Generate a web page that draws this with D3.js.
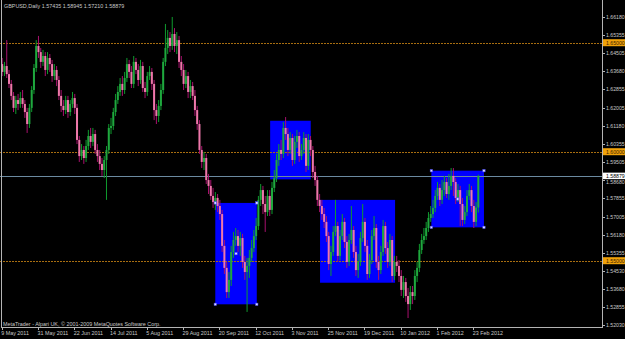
<!DOCTYPE html>
<html>
<head>
<meta charset="utf-8">
<script src="https://cdn.jsdelivr.net/npm/d3@7"></script>
<style>
html, body { margin: 0; padding: 0; background: #000; }
svg { display: block; }
text { font-family: "Liberation Sans", Arial, sans-serif; }
</style>
</head>
<body>
<svg id="chart" width="625" height="339"></svg>
<script>
// GBPUSD daily bars, 9 May 2011 .. 27 Feb 2012 (one entry per bar)
const open = [
  1.6402,1.6366,1.6393,1.6356,1.6311,1.6256,1.6201,1.6237,1.6219,1.6246,
  1.6219,1.6182,1.6127,1.6201,1.6283,1.6384,1.6485,1.6457,1.6412,1.6439,
  1.6375,1.6430,1.6402,1.6347,1.6375,1.6329,1.6256,1.6210,1.6191,1.6237,
  1.6182,1.6219,1.6246,1.6201,1.6054,1.5980,1.6008,1.5971,1.6026,1.6072,
  1.6045,1.6081,1.6008,1.5980,1.5944,1.5916,1.5962,1.6008,1.6109,1.6118,
  1.6182,1.6237,1.6274,1.6311,1.6283,1.6338,1.6402,1.6366,1.6311,1.6412,
  1.6375,1.6329,1.6393,1.6292,1.6274,1.6347,1.6366,1.6311,1.6191,1.6164,
  1.6210,1.6283,1.6412,1.6476,1.6522,1.6485,1.6540,1.6485,1.6512,1.6412,
  1.6375,1.6311,1.6347,1.6274,1.6301,1.6256,1.6191,1.6127,1.6008,1.5953,
  1.5971,1.5870,1.5843,1.5797,1.5769,1.5788,1.5751,1.5714,1.5568,1.5467,
  1.5356,1.5412,1.5540,1.5595,1.5613,1.5568,1.5604,1.5494,1.5448,1.5476,
  1.5513,1.5558,1.5613,1.5659,1.5779,1.5824,1.5760,1.5723,1.5797,1.5733,
  1.5834,1.5879,1.5962,1.6008,1.5990,1.6109,1.6081,1.6008,1.6063,1.5962,
  1.6045,1.6072,1.5980,1.6008,1.6063,1.5935,1.6054,1.6008,1.5907,1.5870,
  1.5779,1.5751,1.5714,1.5678,1.5613,1.5485,1.5540,1.5632,1.5659,1.5522,
  1.5613,1.5678,1.5586,1.5494,1.5595,1.5641,1.5540,1.5457,1.5494,1.5604,
  1.5678,1.5568,1.5439,1.5503,1.5613,1.5650,1.5494,1.5457,1.5540,1.5659,
  1.5558,1.5494,1.5595,1.5430,1.5494,1.5476,1.5430,1.5366,1.5402,1.5338,
  1.5301,1.5356,1.5338,1.5430,1.5467,1.5549,1.5595,1.5613,1.5650,1.5696,
  1.5714,1.5742,1.5797,1.5834,1.5779,1.5824,1.5861,1.5806,1.5843,1.5889,
  1.5861,1.5788,1.5824,1.5760,1.5687,1.5723,1.5797,1.5824,1.5751,1.5678,
  1.5744
];
const high = [
  1.6430,1.6412,1.6512,1.6375,1.6329,1.6274,1.6256,1.6265,1.6274,1.6283,
  1.6237,1.6201,1.6219,1.6301,1.6402,1.6512,1.6531,1.6476,1.6467,1.6457,
  1.6457,1.6448,1.6421,1.6402,1.6393,1.6347,1.6283,1.6237,1.6256,1.6256,
  1.6237,1.6274,1.6265,1.6219,1.6072,1.6035,1.6026,1.6054,1.6100,1.6109,
  1.6109,1.6100,1.6035,1.6008,1.5971,1.5980,1.6026,1.6127,1.6155,1.6201,
  1.6265,1.6301,1.6338,1.6347,1.6366,1.6430,1.6421,1.6393,1.6439,1.6430,
  1.6402,1.6421,1.6412,1.6320,1.6366,1.6393,1.6384,1.6329,1.6219,1.6237,
  1.6311,1.6430,1.6586,1.6558,1.6549,1.6618,1.6567,1.6549,1.6531,1.6439,
  1.6402,1.6375,1.6366,1.6329,1.6320,1.6283,1.6210,1.6145,1.6026,1.5999,
  1.5990,1.5898,1.5870,1.5834,1.5815,1.5806,1.5779,1.5733,1.5595,1.5494,
  1.5448,1.5568,1.5632,1.5650,1.5641,1.5632,1.5623,1.5522,1.5513,1.5549,
  1.5595,1.5641,1.5696,1.5797,1.5852,1.5843,1.5797,1.5824,1.5824,1.5861,
  1.5916,1.5990,1.6035,1.6054,1.6136,1.6159,1.6109,1.6090,1.6081,1.6072,
  1.6100,1.6090,1.6035,1.6090,1.6081,1.6081,1.6072,1.6026,1.5935,1.5889,
  1.5806,1.5779,1.5742,1.5705,1.5632,1.5568,1.5659,1.5779,1.5678,1.5641,
  1.5714,1.5696,1.5613,1.5623,1.5751,1.5659,1.5568,1.5531,1.5632,1.5760,
  1.5696,1.5595,1.5531,1.5641,1.5705,1.5668,1.5522,1.5568,1.5687,1.5678,
  1.5586,1.5623,1.5613,1.5522,1.5522,1.5503,1.5457,1.5430,1.5421,1.5375,
  1.5384,1.5384,1.5457,1.5494,1.5577,1.5623,1.5650,1.5678,1.5723,1.5751,
  1.5779,1.5824,1.5861,1.5852,1.5870,1.5889,1.5879,1.5898,1.5925,1.5925,
  1.5879,1.5852,1.5843,1.5788,1.5751,1.5824,1.5852,1.5843,1.5779,1.5769,
  1.58945
];
const low = [
  1.6347,1.6347,1.6338,1.6292,1.6237,1.6182,1.6173,1.6191,1.6201,1.6201,
  1.6155,1.6086,1.6109,1.6182,1.6265,1.6366,1.6430,1.6384,1.6393,1.6347,
  1.6356,1.6366,1.6320,1.6329,1.6301,1.6237,1.6182,1.6164,1.6173,1.6155,
  1.6164,1.6201,1.6173,1.6035,1.5953,1.5962,1.5944,1.5953,1.6008,1.6017,
  1.6026,1.5990,1.5953,1.5916,1.5889,1.5879,1.5779,1.5990,1.6081,1.6100,
  1.6164,1.6219,1.6256,1.6256,1.6265,1.6320,1.6338,1.6292,1.6292,1.6356,
  1.6301,1.6311,1.6274,1.6246,1.6256,1.6329,1.6283,1.6145,1.6127,1.6136,
  1.6191,1.6265,1.6393,1.6448,1.6457,1.6467,1.6457,1.6448,1.6384,1.6347,
  1.6283,1.6292,1.6246,1.6246,1.6237,1.6164,1.6100,1.5990,1.5925,1.5916,
  1.5852,1.5806,1.5779,1.5742,1.5733,1.5723,1.5687,1.5540,1.5439,1.5329,
  1.5329,1.5384,1.5513,1.5568,1.5540,1.5522,1.5467,1.5412,1.5265,1.5421,
  1.5494,1.5540,1.5595,1.5641,1.5751,1.5714,1.5632,1.5705,1.5705,1.5714,
  1.5815,1.5861,1.5935,1.5962,1.5971,1.6054,1.5980,1.5990,1.5935,1.5944,
  1.6017,1.5953,1.5962,1.5990,1.5907,1.5916,1.5980,1.5879,1.5843,1.5751,
  1.5723,1.5687,1.5650,1.5586,1.5457,1.5430,1.5522,1.5613,1.5494,1.5503,
  1.5595,1.5558,1.5467,1.5476,1.5577,1.5513,1.5430,1.5421,1.5476,1.5586,
  1.5540,1.5412,1.5421,1.5485,1.5595,1.5467,1.5412,1.5439,1.5522,1.5531,
  1.5467,1.5476,1.5402,1.5412,1.5448,1.5402,1.5338,1.5329,1.5311,1.5237,
  1.5274,1.5301,1.5320,1.5402,1.5448,1.5531,1.5577,1.5595,1.5632,1.5678,
  1.5696,1.5723,1.5779,1.5751,1.5760,1.5797,1.5788,1.5779,1.5824,1.5797,
  1.5760,1.5769,1.5659,1.5659,1.5668,1.5705,1.5779,1.5723,1.5650,1.5659,
  1.5721
];
const close = [
  1.6366,1.6393,1.6356,1.6311,1.6256,1.6201,1.6237,1.6219,1.6246,1.6219,
  1.6182,1.6127,1.6201,1.6283,1.6384,1.6485,1.6457,1.6412,1.6439,1.6375,
  1.6430,1.6402,1.6347,1.6375,1.6329,1.6256,1.6210,1.6191,1.6237,1.6182,
  1.6219,1.6246,1.6201,1.6054,1.5980,1.6008,1.5971,1.6026,1.6072,1.6045,
  1.6081,1.6008,1.5980,1.5944,1.5916,1.5962,1.6008,1.6109,1.6118,1.6182,
  1.6237,1.6274,1.6311,1.6283,1.6338,1.6402,1.6366,1.6311,1.6412,1.6375,
  1.6329,1.6393,1.6292,1.6274,1.6347,1.6366,1.6311,1.6191,1.6164,1.6210,
  1.6283,1.6412,1.6476,1.6522,1.6485,1.6540,1.6485,1.6512,1.6412,1.6375,
  1.6311,1.6347,1.6274,1.6301,1.6256,1.6191,1.6127,1.6008,1.5953,1.5971,
  1.5870,1.5843,1.5797,1.5769,1.5788,1.5751,1.5714,1.5568,1.5467,1.5356,
  1.5412,1.5540,1.5595,1.5613,1.5568,1.5604,1.5494,1.5448,1.5476,1.5513,
  1.5558,1.5613,1.5659,1.5779,1.5824,1.5760,1.5723,1.5797,1.5733,1.5834,
  1.5879,1.5962,1.6008,1.5990,1.6109,1.6081,1.6008,1.6063,1.5962,1.6045,
  1.6072,1.5980,1.6008,1.6063,1.5935,1.6054,1.6008,1.5907,1.5870,1.5779,
  1.5751,1.5714,1.5678,1.5613,1.5485,1.5540,1.5632,1.5659,1.5522,1.5613,
  1.5678,1.5586,1.5494,1.5595,1.5641,1.5540,1.5457,1.5494,1.5604,1.5678,
  1.5568,1.5439,1.5503,1.5613,1.5650,1.5494,1.5457,1.5540,1.5659,1.5558,
  1.5494,1.5595,1.5430,1.5494,1.5476,1.5430,1.5366,1.5402,1.5338,1.5301,
  1.5356,1.5338,1.5430,1.5467,1.5549,1.5595,1.5613,1.5650,1.5696,1.5714,
  1.5742,1.5797,1.5834,1.5779,1.5824,1.5861,1.5806,1.5843,1.5889,1.5861,
  1.5788,1.5824,1.5760,1.5687,1.5723,1.5797,1.5824,1.5751,1.5678,1.5744,
  1.58879
];

const title = "GBPUSD,Daily  1.57435 1.58945 1.57210 1.58879";
const footer = "MetaTrader - Alpari UK, \u00a9 2001-2009 MetaQuotes Software Corp.";

// time axis: label text and the bar it sits on
const dateLabels = ["9 May 2011", "31 May 2011", "22 Jun 2011", "14 Jul 2011", "5 Aug 2011",
  "29 Aug 2011", "20 Sep 2011", "12 Oct 2011", "3 Nov 2011", "25 Nov 2011",
  "19 Dec 2011", "10 Jan 2012", "1 Feb 2012", "23 Feb 2012"];
const dateLabelBars = [0, 16, 32, 48, 64, 80, 96, 112, 128, 144, 160, 176, 192, 208];

// price axis labels
const priceLabels = [1.66180, 1.65355, 1.64505, 1.63680, 1.62855, 1.62005, 1.61180,
  1.60355, 1.59505, 1.58680, 1.57855, 1.57005, 1.56180, 1.55355, 1.54530,
  1.53680, 1.52855, 1.52030];

// horizontal levels and current bid
const levels = [1.65, 1.60, 1.55];
const bid = 1.58879;

// rectangles: bar from/to, price top/bottom
const boxFrom = [94.2, 118.4, 140.4, 189.5];
const boxTo = [112.5, 136.3, 173.5, 212.7];
const boxTop = [1.5765, 1.6142, 1.5779, 1.5913];
const boxBottom = [1.5300, 1.5873, 1.5399, 1.5653];
const selectedBoxes = [0, 3];

const W = 625, H = 339;
const plotRight = 602, plotBottom = 327;

const x = d3.scaleLinear().domain([0, 208]).range([1.7, 473.3]);
const y = d3.scaleLinear().domain([1.51959, 1.66959]).range([plotBottom, 0]);
const fmt = d3.format(".5f");

const svg = d3.select("#chart");
svg.append("rect").attr("width", W).attr("height", H).attr("fill", "#000");

const boxes = boxFrom.map((f, i) => ({
  from: f, to: boxTo[i], top: boxTop[i], bottom: boxBottom[i], idx: i
}));

// blue rectangles in the background
svg.append("g").selectAll("rect")
  .data(boxes)
  .join("rect")
    .attr("x", d => x(d.from))
    .attr("y", d => y(d.top))
    .attr("width", d => x(d.to) - x(d.from))
    .attr("height", d => y(d.bottom) - y(d.top))
    .attr("fill", "#0000ff");

// dotted level lines
svg.append("g").selectAll("line")
  .data(levels)
  .join("line")
    .attr("x1", 0).attr("x2", plotRight)
    .attr("y1", d => Math.round(y(d)) + 0.5)
    .attr("y2", d => Math.round(y(d)) + 0.5)
    .attr("stroke", "#a86e10")
    .attr("stroke-dasharray", "2,1");

// bid line
svg.append("line")
  .attr("x1", 0).attr("x2", plotRight)
  .attr("y1", Math.round(y(bid)) + 0.5).attr("y2", Math.round(y(bid)) + 0.5)
  .attr("stroke", "#6b8aa0");

// candles
const bars = close.map((c, i) => ({ i, o: open[i], h: high[i], l: low[i], c }));

const candles = svg.append("g").selectAll("g")
  .data(bars)
  .join("g");

candles.append("line")
  .attr("x1", d => x(d.i) + 0.5).attr("x2", d => x(d.i) + 0.5)
  .attr("y1", d => y(d.h)).attr("y2", d => y(d.l))
  .attr("stroke", d => d.c >= d.o ? "#0f9a2e" : "#a8106e");

candles.append("rect")
  .attr("x", d => x(d.i) - 0.5)
  .attr("width", 2)
  .attr("y", d => y(Math.max(d.o, d.c)))
  .attr("height", d => Math.max(1, Math.abs(y(d.o) - y(d.c))))
  .attr("fill", d => d.c >= d.o ? "#1fa83e" : "#ee78aa");

// selection handles on the selected rectangles
const handles = [];
selectedBoxes.forEach(k => {
  const b = boxes[k];
  handles.push([b.from, b.top], [b.to, b.top], [b.from, b.bottom], [b.to, b.bottom],
    [(b.from + b.to) / 2, (b.top + b.bottom) / 2]);
});
svg.append("g").selectAll("rect")
  .data(handles)
  .join("rect")
    .attr("x", d => x(d[0]) - 1.2)
    .attr("y", d => y(d[1]) - 1.2)
    .attr("width", 2.4).attr("height", 2.4)
    .attr("fill", "#dcdcff")
    .attr("stroke", "#4040ff")
    .attr("stroke-width", 0.5);

// frame
const frame = svg.append("g").attr("stroke", "#b4b4b4").attr("stroke-width", 1);
frame.append("line").attr("x1", 1.5).attr("x2", 1.5).attr("y1", 0).attr("y2", plotBottom);
frame.append("line").attr("x1", plotRight + 0.5).attr("x2", plotRight + 0.5).attr("y1", 0).attr("y2", plotBottom + 0.5);
frame.append("line").attr("x1", 1).attr("x2", plotRight + 1).attr("y1", plotBottom + 0.5).attr("y2", plotBottom + 0.5);

// price axis (the label hidden under the bid tag is left out of the text layer)
const yAxis = svg.append("g");
yAxis.selectAll("line")
  .data(priceLabels)
  .join("line")
    .attr("x1", plotRight).attr("x2", plotRight + 3)
    .attr("y1", d => Math.round(y(d)) + 0.5).attr("y2", d => Math.round(y(d)) + 0.5)
    .attr("stroke", "#b4b4b4");
yAxis.selectAll("text")
  .data(priceLabels)
  .join("text")
    .attr("x", plotRight + 4)
    .attr("y", d => Math.abs(y(d) - y(bid)) < 7 ? y(d) + 2 : y(d))
    .attr("dy", "0.36em")
    .attr("fill", "#c8c8c8")
    .style("font-size", "5.2px")
    .text(d => fmt(d));

// level tags
const tags = svg.append("g");
tags.selectAll("rect")
  .data(levels)
  .join("rect")
    .attr("x", plotRight + 1).attr("width", 22)
    .attr("y", d => y(d) - 3.5).attr("height", 7)
    .attr("fill", "#f0a20a");
tags.selectAll("text")
  .data(levels)
  .join("text")
    .attr("x", plotRight + 4)
    .attr("y", d => y(d))
    .attr("dy", "0.36em")
    .attr("fill", "#3a2000")
    .style("font-size", "5.2px")
    .text(d => fmt(d));

// bid tag
tags.append("rect")
  .attr("x", plotRight + 1).attr("width", 22)
  .attr("y", y(bid) - 3.5).attr("height", 6.5)
  .attr("fill", "#ffffff");
tags.append("text")
  .attr("x", plotRight + 4)
  .attr("y", y(bid) - 0.3)
  .attr("dy", "0.36em")
  .attr("fill", "#000")
  .style("font-size", "5.2px")
  .text(fmt(bid));

// time axis
const xAxis = svg.append("g");
xAxis.selectAll("line")
  .data(dateLabelBars)
  .join("line")
    .attr("x1", d => Math.round(x(d)) + 0.5).attr("x2", d => Math.round(x(d)) + 0.5)
    .attr("y1", plotBottom).attr("y2", plotBottom + 3)
    .attr("stroke", "#b4b4b4");
xAxis.selectAll("text")
  .data(dateLabels)
  .join("text")
    .attr("x", (d, i) => x(dateLabelBars[i]) - 0.5)
    .attr("y", 335)
    .attr("fill", "#c8c8c8")
    .style("font-size", "5.4px")
    .text(d => d);

// title and footer
svg.append("text")
  .attr("x", 4).attr("y", 8)
  .attr("fill", "#c8c8c8")
  .style("font-size", "5.4px")
  .text(title);

svg.append("text")
  .attr("x", 3).attr("y", 325.5)
  .attr("fill", "#c8c8c8")
  .style("font-size", "5.4px")
  .text(footer);
</script>
</body>
</html>
